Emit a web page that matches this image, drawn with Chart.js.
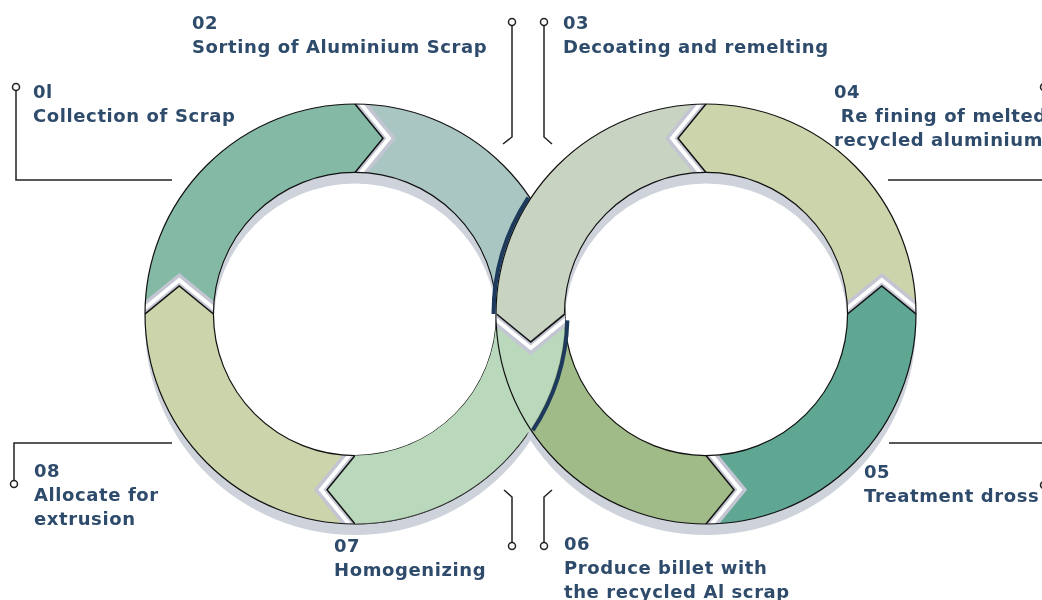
<!DOCTYPE html>
<html>
<head>
<meta charset="utf-8">
<script src="https://cdn.jsdelivr.net/npm/chart.js@4.4.0/dist/chart.umd.min.js"></script>
<style>
  body { margin: 0; background: #fff; }
  #stage { position: relative; width: 1042px; height: 600px; overflow: hidden; }
  canvas, svg { position: absolute; left: 0; top: 0; }
  .lbl {
    position: absolute;
    color: #2e4b6b;
    font-family: "DejaVu Sans", sans-serif;
    font-weight: bold;
    font-size: 18px;
    line-height: 24px;
    letter-spacing: 0.6px;
    white-space: nowrap;
  }
</style>
</head>
<body>
<div id="stage">
  <canvas id="leftRing" width="1042" height="600"></canvas>
  <canvas id="rightRing" width="1042" height="600"></canvas>
  <canvas id="overRing" width="1042" height="600"></canvas>
  <svg width="1042" height="600">
    <g stroke="#222" stroke-width="1.5" fill="none">
      <polyline points="16,91 16,180 172,180"/>
      <polyline points="512,26 512,137 503,144"/>
      <polyline points="544,26 544,137 552,144"/>
      <polyline points="1044,91 1044,180 888,180"/>
      <polyline points="1044,481 1044,443 889,443"/>
      <polyline points="544,542 544,497 552,490"/>
      <polyline points="512,542 512,497 504,490"/>
      <polyline points="14,480 14,443 172,443"/>
    </g>
    <g fill="#fff" stroke="#222" stroke-width="1.5">
      <circle cx="16" cy="87" r="3.5"/>
      <circle cx="512" cy="22" r="3.5"/>
      <circle cx="544" cy="22" r="3.5"/>
      <circle cx="1044" cy="87" r="3.5"/>
      <circle cx="1044" cy="485" r="3.5"/>
      <circle cx="544" cy="546" r="3.5"/>
      <circle cx="512" cy="546" r="3.5"/>
      <circle cx="14" cy="484" r="3.5"/>
    </g>
  </svg>
  <div class="lbl" style="left:33px;top:80px">0l<br>Collection of Scrap</div>
  <div class="lbl" style="left:192px;top:11px">02<br>Sorting of Aluminium Scrap</div>
  <div class="lbl" style="left:563px;top:11px">03<br>Decoating and remelting</div>
  <div class="lbl" style="left:834px;top:80px">04<br>&nbsp;Re fining of melted<br>recycled aluminium</div>
  <div class="lbl" style="left:864px;top:460px">05<br>Treatment dross</div>
  <div class="lbl" style="left:564px;top:532px">06<br>Produce billet with<br>the recycled Al scrap</div>
  <div class="lbl" style="left:334px;top:534px">07<br>Homogenizing</div>
  <div class="lbl" style="left:34px;top:459px">08<br>Allocate for<br>extrusion</div>
</div>
<script>
// Left ring, clockwise from 12 o'clock
const leftSteps = ['02', '07', '08', '01'];
const leftValues = [25, 25, 25, 25];
const leftColors = ['#a9c6c3', '#bad8bc', '#cbd4ab', '#84b9a5'];

// Right ring, clockwise from 12 o'clock
const rightSteps = ['04', '05', '06', '03'];
const rightValues = [25, 25, 25, 25];
const rightColors = ['#cbd4ab', '#5fa693', '#a1bb88', '#c9d3c1'];

const TIP = 28;        // how far an arrow head sticks into the next step
const NAVY = '#1d3a5c';

function ringPath(ctx, a, dy) {
    ctx.beginPath();
    ctx.arc(a.x, a.y + dy, a.outerRadius, 0, Math.PI * 2);
    ctx.arc(a.x, a.y + dy, a.innerRadius, 0, Math.PI * 2, true);
}

// chevron corners at a segment boundary, pointing in the flow direction
function chevron(a, ang, dir) {
    const c = Math.cos(ang), s = Math.sin(ang);
    const tx = -s * dir, ty = c * dir;
    const rm = (a.innerRadius + a.outerRadius) / 2;
    const out = [a.x + a.outerRadius * c, a.y + a.outerRadius * s];
    const inn = [a.x + a.innerRadius * c, a.y + a.innerRadius * s];
    const tip = [a.x + rm * c + TIP * tx, a.y + rm * s + TIP * ty];
    // run the legs a bit past the ring edges, the clip trims them
    const ext = p => [p[0] + (p[0] - tip[0]) * 0.25, p[1] + (p[1] - tip[1]) * 0.25];
    return { out: ext(out), inn: ext(inn), tip, tx, ty };
}

function legs(ctx, p, shift) {
    ctx.beginPath();
    ctx.moveTo(p.out[0] + p.tx * shift, p.out[1] + p.ty * shift);
    ctx.lineTo(p.tip[0] + p.tx * shift, p.tip[1] + p.ty * shift);
    ctx.lineTo(p.inn[0] + p.tx * shift, p.inn[1] + p.ty * shift);
}

function drawChevron(ctx, a, ang, dir, color) {
    const p = chevron(a, ang, dir);
    ctx.save();
    ringPath(ctx, a, 0);
    ctx.clip();
    ctx.lineJoin = 'miter';
    // bevel glow in the notch
    legs(ctx, p, 6);
    ctx.strokeStyle = '#c3c5d2';
    ctx.lineWidth = 11;
    ctx.stroke();
    legs(ctx, p, 6);
    ctx.strokeStyle = '#ffffff';
    ctx.lineWidth = 4;
    ctx.stroke();
    if (color) {
        legs(ctx, p, 0);
        ctx.lineTo(p.inn[0] - p.tx * 4, p.inn[1] - p.ty * 4);
        ctx.lineTo(p.out[0] - p.tx * 4, p.out[1] - p.ty * 4);
        ctx.closePath();
        ctx.fillStyle = color;
        ctx.fill();
    }
    legs(ctx, p, 0);
    ctx.strokeStyle = '#111';
    ctx.lineWidth = 1.5;
    ctx.stroke();
    ctx.restore();
}

// drop shadow, arrow heads and rim lines for a whole ring
const ringPlugin = {
    id: 'ring',
    beforeDatasetsDraw(chart) {
        const a = chart.getDatasetMeta(0).data[0];
        const ctx = chart.ctx;
        ctx.save();
        ringPath(ctx, a, 11);
        ctx.fillStyle = '#cdd2db';
        ctx.fill();
        ctx.restore();
    },
    afterDatasetsDraw(chart, args, opts) {
        const arcs = chart.getDatasetMeta(0).data;
        const colors = chart.data.datasets[0].backgroundColor;
        const ctx = chart.ctx;
        arcs.forEach((arc, i) => {
            const ang = opts.dir > 0 ? arc.endAngle : arc.startAngle;
            drawChevron(ctx, arc, ang, opts.dir, colors[i]);
        });
        const a = arcs[0];
        ctx.save();
        ctx.strokeStyle = '#111';
        ctx.lineWidth = 1.2;
        ctx.beginPath();
        ctx.arc(a.x, a.y, a.outerRadius, 0, Math.PI * 2);
        ctx.stroke();
        ctx.beginPath();
        ctx.arc(a.x, a.y, a.innerRadius, 0, Math.PI * 2);
        ctx.stroke();
        if (opts.edge) {
            ctx.strokeStyle = NAVY;
            ctx.lineWidth = 4;
            ctx.beginPath();
            ctx.arc(a.x, a.y, a.outerRadius + 2.5, opts.edge[0], opts.edge[1]);
            ctx.stroke();
        }
        ctx.restore();
    }
};

function ringConfig(values, colors, pad, plugins, pluginOpts) {
    return {
        type: 'doughnut',
        data: {
            labels: values.map((v, i) => i),
            datasets: [{
                data: values,
                backgroundColor: colors,
                borderWidth: 0,
                hoverOffset: 0
            }]
        },
        options: {
            responsive: false,
            animation: false,
            events: [],
            radius: 210,
            cutout: '67.4%',
            layout: { padding: pad },
            plugins: Object.assign({
                legend: { display: false },
                tooltip: { enabled: false }
            }, pluginOpts)
        },
        plugins: plugins
    };
}

const leftChart = new Chart(document.getElementById('leftRing'), ringConfig(
    leftValues, leftColors,
    { left: 145, top: 104, right: 477, bottom: 76 },
    [ringPlugin], { ring: { dir: 1 } }
));

const rightChart = new Chart(document.getElementById('rightRing'), ringConfig(
    rightValues, rightColors,
    { left: 496, top: 104, right: 126, bottom: 76 },
    [ringPlugin], { ring: { dir: -1, edge: [Math.PI, Math.PI + 0.58] } }
));

// step 07 passes over the right ring, drawn again on top
const overPlugin = {
    id: 'over',
    beforeDatasetsDraw(chart) {
        const arc = chart.getDatasetMeta(0).data[1];
        const p = chevron(arc, arc.startAngle, 1);
        const ctx = chart.ctx;
        ctx.save();
        ctx.beginPath();
        ctx.rect(0, 0, chart.width, chart.height);
        ctx.moveTo(p.out[0], p.out[1]);
        ctx.lineTo(p.tip[0], p.tip[1]);
        ctx.lineTo(p.inn[0], p.inn[1]);
        ctx.lineTo(p.inn[0] - p.tx * 6, p.inn[1] - p.ty * 6);
        ctx.lineTo(p.out[0] - p.tx * 6, p.out[1] - p.ty * 6);
        ctx.closePath();
        ctx.clip('evenodd');
    },
    afterDatasetsDraw(chart) {
        const ctx = chart.ctx;
        ctx.restore();
        const arc = chart.getDatasetMeta(0).data[1];
        drawChevron(ctx, arc, arc.startAngle, 1, null);
        const r = rightChart.getDatasetMeta(0).data[0];
        ctx.save();
        ringPath(ctx, arc, 0);
        ctx.clip();
        ctx.strokeStyle = '#111';
        ctx.lineWidth = 1.2;
        ctx.beginPath();
        ctx.arc(r.x, r.y, r.outerRadius, Math.PI / 2, Math.PI);
        ctx.stroke();
        ctx.restore();
        ctx.save();
        ctx.strokeStyle = '#333';
        ctx.lineWidth = 0.8;
        ctx.beginPath();
        ctx.arc(arc.x, arc.y, arc.outerRadius, 0.6, Math.PI / 2);
        ctx.stroke();
        ctx.strokeStyle = NAVY;
        ctx.lineWidth = 4;
        ctx.beginPath();
        ctx.arc(arc.x, arc.y, arc.outerRadius + 2.5, 0.03, 0.58);
        ctx.stroke();
        ctx.restore();
    }
};

const overChart = new Chart(document.getElementById('overRing'), ringConfig(
    leftValues, leftColors.map((c, i) => i === 1 ? c : 'rgba(0,0,0,0)'),
    { left: 145, top: 104, right: 477, bottom: 76 },
    [overPlugin], {}
));
</script>
</body>
</html>
